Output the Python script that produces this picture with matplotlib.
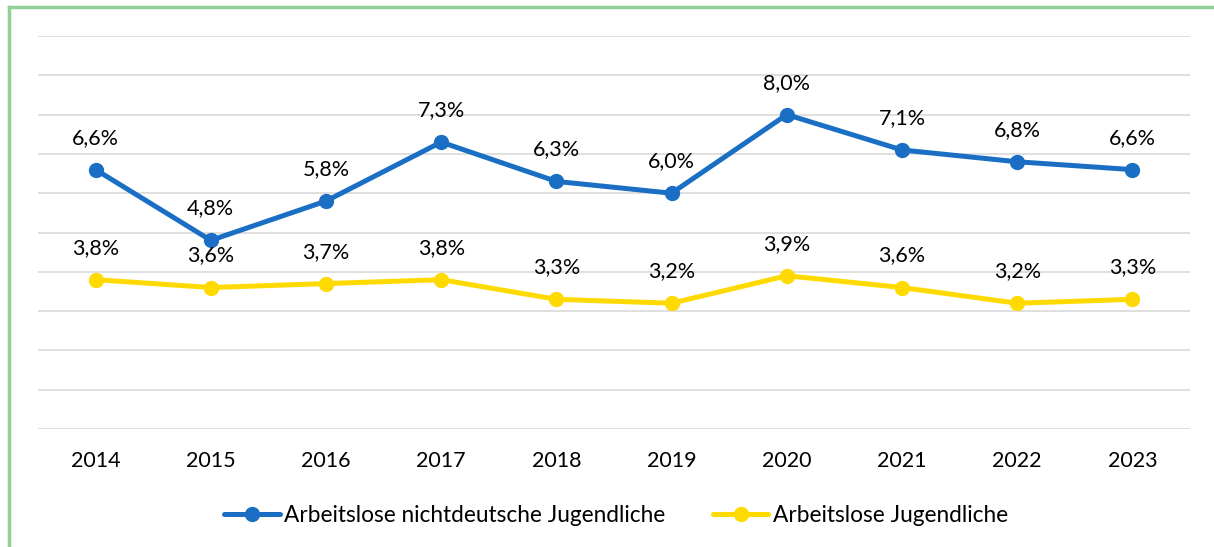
import matplotlib
matplotlib.use("Agg")
import matplotlib.pyplot as plt
from matplotlib.lines import Line2D

years = ["2014", "2015", "2016", "2017", "2018", "2019", "2020", "2021", "2022", "2023"]
nichtdeutsch = [6.6, 4.8, 5.8, 7.3, 6.3, 6.0, 8.0, 7.1, 6.8, 6.6]
jugendliche = [3.8, 3.6, 3.7, 3.8, 3.3, 3.2, 3.9, 3.6, 3.2, 3.3]
series_names = ["Arbeitslose nichtdeutsche Jugendliche", "Arbeitslose Jugendliche"]

plt.rcParams['font.family'] = ['Lato', 'DejaVu Sans']
FS = 15.5

W, H = 1214, 547
fig = plt.figure(figsize=(W / 100, H / 100), dpi=100)
ax = fig.add_axes([38 / W, (H - 429) / H, (1190 - 38) / W, (429 - 36) / H])

blue = '#1a6fc4'
yellow = '#ffda00'
x = list(range(len(years)))

for vals, col in [(nichtdeutsch, blue), (jugendliche, yellow)]:
    ax.plot(x, vals, color=col, lw=3.6, marker='o', ms=10, solid_capstyle='round', zorder=3)
    for xi, v in zip(x, vals):
        ax.annotate(f"{v:.1f}%".replace('.', ','), (xi, v), xytext=(0, 23),
                    textcoords='offset points', ha='center', va='center',
                    fontsize=FS, color='#000000', zorder=4)

ax.set_xlim(-0.5, len(years) - 0.5)
ax.set_ylim(0, 10)
ax.set_yticks(range(0, 11))
ax.set_yticklabels([])
ax.tick_params(axis='y', length=0)
ax.grid(axis='y', color='#d9d9d9', lw=1.2)
ax.set_axisbelow(True)
ax.set_xticks(x)
ax.set_xticklabels(years, fontsize=FS)
ax.tick_params(axis='x', length=0, pad=16)
for s in ax.spines.values():
    s.set_visible(False)

handles = [Line2D([], [], color=blue, lw=3.6, marker='o', ms=10, solid_capstyle='round'),
           Line2D([], [], color=yellow, lw=3.6, marker='o', ms=10, solid_capstyle='round')]
fig.legend(handles, series_names, loc='center', bbox_to_anchor=(616 / W, (H - 515) / H),
           ncol=2, frameon=False, fontsize=16.3, handlelength=2.45, handletextpad=0.2,
           columnspacing=2.1, numpoints=1)

# green frame
fig.add_artist(Line2D([9 / W, 9 / W], [0, (H - 7) / H], color='#93cf96', lw=2.5,
                      transform=fig.transFigure))
fig.add_artist(Line2D([9 / W, 1], [(H - 7) / H, (H - 7) / H], color='#93cf96', lw=2.5,
                      transform=fig.transFigure))

fig.savefig('out.png', dpi=100)
